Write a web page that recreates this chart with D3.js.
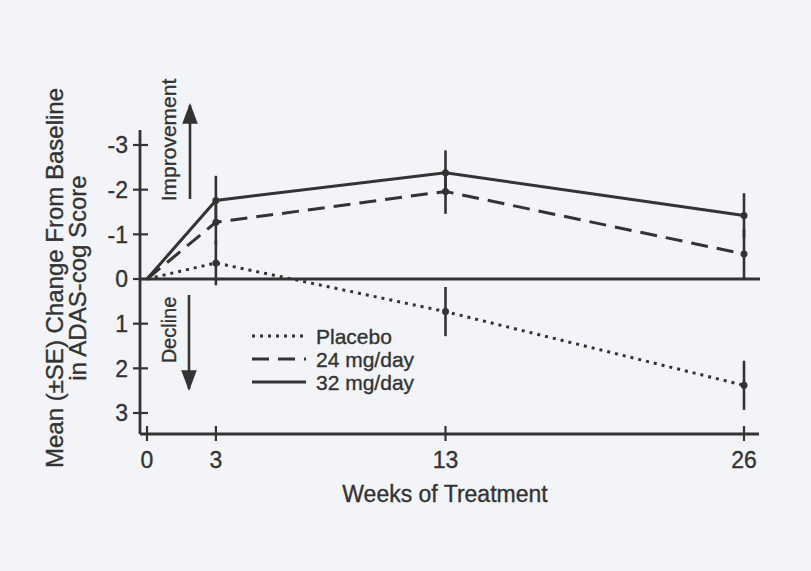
<!DOCTYPE html>
<html><head><meta charset="utf-8">
<script src="https://cdn.jsdelivr.net/npm/d3@7"></script>
<style>body{margin:0;background:#f2f4f7;}svg{display:block;} text{stroke:#333;stroke-width:0.35px;}</style>
</head><body>
<svg id="c" width="811" height="571"></svg>
<script>
const weeks = [0, 3, 13, 26];
const placebo = [0, -0.36, 0.73, 2.38];
const placeboSE = [0, 0.5, 0.55, 0.55];
const mg24 = [0, -1.27, -1.96, -0.56];
const mg24SE = [0, 0.5, 0.5, 0.55];
const mg32 = [0, -1.76, -2.38, -1.42];
const mg32SE = [0, 0.55, 0.5, 0.5];
const yTicks = [-3, -2, -1, 0, 1, 2, 3];
const xTicks = [0, 3, 13, 26];
const seriesNames = ["Placebo", "24 mg/day", "32 mg/day"];

const ink = "#333";
const font = "Arial, 'Liberation Sans', sans-serif";
const svg = d3.select("#c");
svg.append("rect").attr("width", 811).attr("height", 571).attr("fill", "#f2f4f7");

const x = d3.scaleLinear().domain([0, 26]).range([147, 744]);
const y = d3.scaleLinear().domain([-3, 3]).range([145, 413]);

const axisLeftX = 140, axisBottomY = 434;
svg.append("line").attr("x1", axisLeftX).attr("x2", axisLeftX).attr("y1", 130).attr("y2", axisBottomY)
  .attr("stroke", ink).attr("stroke-width", 2.8);
svg.append("line").attr("x1", axisLeftX).attr("x2", 759).attr("y1", axisBottomY).attr("y2", axisBottomY)
  .attr("stroke", ink).attr("stroke-width", 2.8);
svg.append("line").attr("x1", axisLeftX).attr("x2", 760).attr("y1", y(0)).attr("y2", y(0))
  .attr("stroke", ink).attr("stroke-width", 2.8);

const yg = svg.append("g");
yTicks.forEach(t => {
  yg.append("line").attr("x1", axisLeftX - 7).attr("x2", axisLeftX + 8).attr("y1", y(t)).attr("y2", y(t))
    .attr("stroke", ink).attr("stroke-width", 2.2);
  yg.append("text").attr("x", 128).attr("y", y(t)).attr("dy", "0.36em").attr("text-anchor", "end")
    .attr("font-family", font).attr("font-size", 23).attr("fill", ink).text(t);
});
const xg = svg.append("g");
xTicks.forEach(t => {
  xg.append("line").attr("x1", x(t)).attr("x2", x(t)).attr("y1", axisBottomY - 8).attr("y2", axisBottomY + 7)
    .attr("stroke", ink).attr("stroke-width", 2.2);
  xg.append("text").attr("x", x(t)).attr("y", 468).attr("text-anchor", "middle")
    .attr("font-family", font).attr("font-size", 23).attr("fill", ink).text(t);
});

svg.append("text").attr("x", 445).attr("y", 502).attr("text-anchor", "middle")
  .attr("font-family", font).attr("font-size", 23).attr("fill", ink).text("Weeks of Treatment");
const yl = svg.append("text").attr("transform", "translate(0,278) rotate(-90)")
  .attr("text-anchor", "middle").attr("font-family", font).attr("font-size", 24).attr("fill", ink);
yl.append("tspan").attr("x", 0).attr("y", 63).text("Mean (\u00B1SE) Change From Baseline");
yl.append("tspan").attr("x", 0).attr("y", 86).text("in ADAS-cog Score");

svg.append("defs").append("marker").attr("id", "ah").attr("viewBox", "0 0 10 10")
  .attr("refX", 9).attr("refY", 5).attr("markerWidth", 8).attr("markerHeight", 6).attr("orient", "auto")
  .attr("markerUnits", "strokeWidth").attr("preserveAspectRatio", "none")
  .append("path").attr("d", "M0,0 L10,5 L0,10 z").attr("fill", ink);
svg.append("line").attr("x1", 190).attr("x2", 190).attr("y1", 199).attr("y2", 105)
  .attr("stroke", ink).attr("stroke-width", 2.6).attr("marker-end", "url(#ah)");
svg.append("line").attr("x1", 189).attr("x2", 189).attr("y1", 295).attr("y2", 389)
  .attr("stroke", ink).attr("stroke-width", 2.6).attr("marker-end", "url(#ah)");
svg.append("text").attr("transform", "translate(176,140) rotate(-90)").attr("text-anchor", "middle")
  .attr("font-family", font).attr("font-size", 21).attr("fill", ink).text("Improvement");
svg.append("text").attr("transform", "translate(176,330) rotate(-90)").attr("text-anchor", "middle")
  .attr("font-family", font).attr("font-size", 20).attr("fill", ink).text("Decline");

const series = [
  {name: seriesNames[0], vals: placebo, se: placeboSE, dash: "3,5"},
  {name: seriesNames[1], vals: mg24, se: mg24SE, dash: "17,9"},
  {name: seriesNames[2], vals: mg32, se: mg32SE, dash: null}
];
const line = d3.line().x((d, i) => x(weeks[i])).y(d => y(d));
series.forEach(s => {
  svg.append("path").datum(s.vals).attr("d", line).attr("fill", "none").attr("stroke", ink)
    .attr("stroke-width", 3).attr("stroke-dasharray", s.dash);
  s.vals.forEach((v, i) => {
    if (i === 0) return;
    svg.append("line").attr("x1", x(weeks[i])).attr("x2", x(weeks[i]))
      .attr("y1", y(v - s.se[i])).attr("y2", y(v + s.se[i]))
      .attr("stroke", ink).attr("stroke-width", 2.6);
    svg.append("circle").attr("cx", x(weeks[i])).attr("cy", y(v)).attr("r", 3.5).attr("fill", ink);
  });
});

const lg = svg.append("g");
series.forEach((s, i) => {
  const ly = 336 + i * 23;
  lg.append("line").attr("x1", 252).attr("x2", 306).attr("y1", ly).attr("y2", ly)
    .attr("stroke", ink).attr("stroke-width", 3).attr("stroke-dasharray", s.dash);
  lg.append("text").attr("x", 316).attr("y", ly).attr("dy", "0.36em")
    .attr("font-family", font).attr("font-size", 21).attr("fill", ink).text(s.name);
});
</script>
</body></html>
